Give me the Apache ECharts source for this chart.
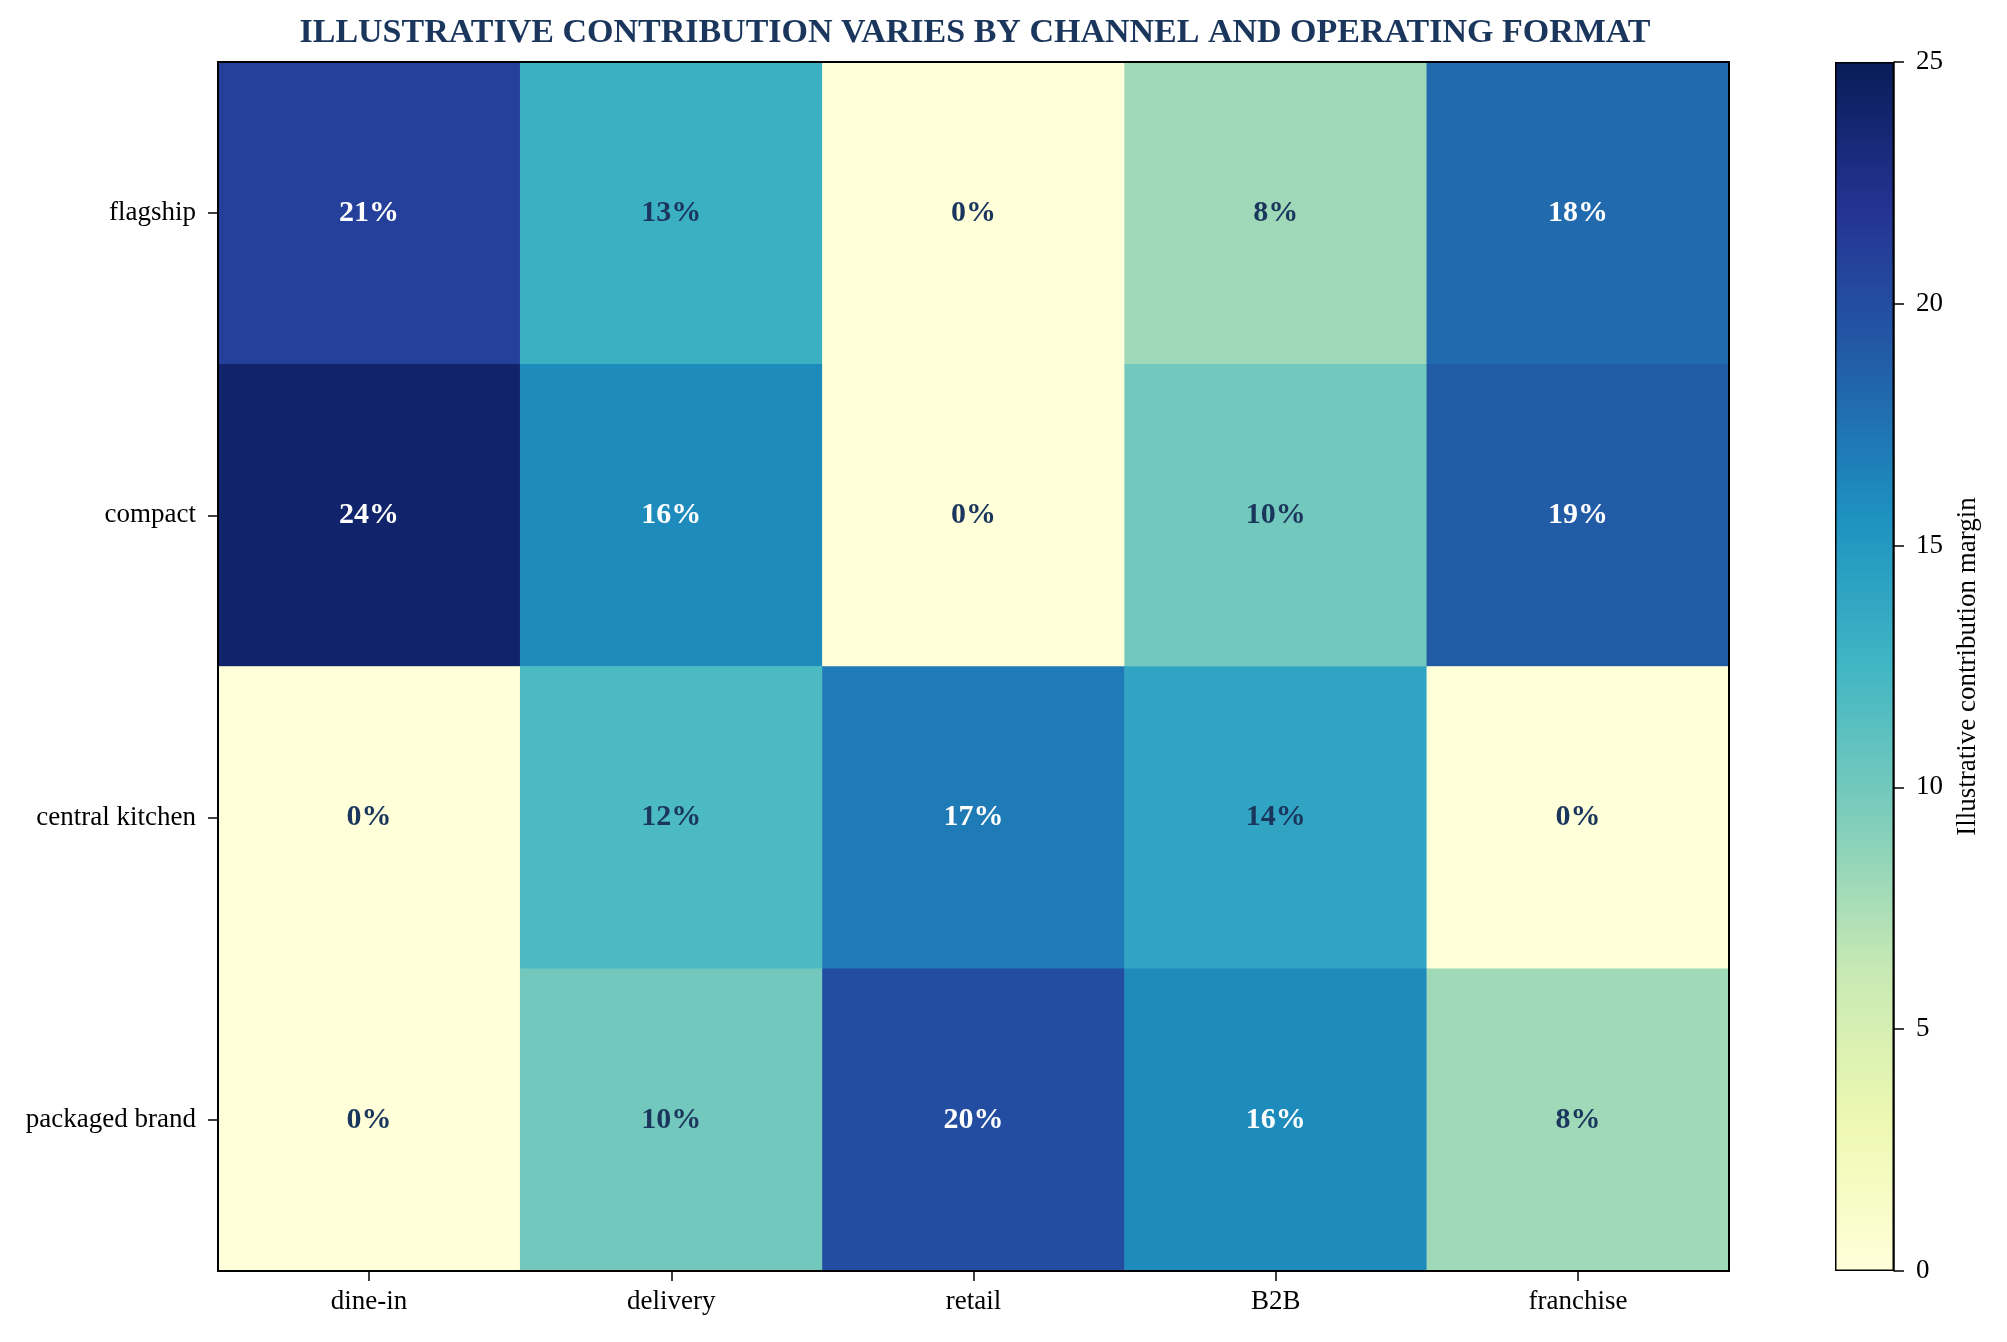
<!DOCTYPE html>
<html>
<head>
<meta charset="utf-8">
<script src="https://cdn.jsdelivr.net/npm/echarts@6/dist/echarts.min.js"></script>
<style>
html,body{margin:0;padding:0;background:#fff;}
#chart{width:2007px;height:1342px;}
</style>
</head>
<body>
<div id="chart"></div>
<script>
const channels = ['dine-in', 'delivery', 'retail', 'B2B', 'franchise'];
const formats = ['flagship', 'compact', 'central kitchen', 'packaged brand'];
const flagship = [21, 13, 0, 8, 18];
const compact = [24, 16, 0, 10, 19];
const centralKitchen = [0, 12, 17, 14, 0];
const packagedBrand = [0, 10, 20, 16, 8];
const colorbarTicks = [0, 5, 10, 15, 20, 25];
const ylgnbu = ['#ffffd9', '#edf8b1', '#c7e9b4', '#7fcdbb', '#41b6c4', '#1d91c0', '#225ea8', '#253494', '#081d58'];

const rows = [flagship, compact, centralKitchen, packagedBrand];
const FONT = 'Liberation Serif';
const NAVY = '#1b365d';

const heatData = [];
rows.forEach((vals, r) => {
  vals.forEach((v, c) => {
    heatData.push({
      value: [c, formats[r], v],
      label: { color: v >= 15 ? '#ffffff' : NAVY }
    });
  });
});

const chart = echarts.init(document.getElementById('chart'));
const lineStyle = { color: '#000', width: 2 };
chart.setOption({
  animation: false,
  backgroundColor: '#fff',
  title: {
    text: 'ILLUSTRATIVE CONTRIBUTION VARIES BY CHANNEL AND OPERATING FORMAT',
    left: 970, textAlign: 'center', top: 11,
    textStyle: { fontFamily: FONT, fontSize: 34, fontWeight: 'bold', color: NAVY }
  },
  grid: [
    { left: 218, right: 278, top: 62, bottom: 71 },
    { left: 1835, width: 59, top: 62, bottom: 71 }
  ],
  xAxis: [
    {
      type: 'category', gridIndex: 0, data: channels, position: 'bottom', z: 10,
      axisLine: { show: true, lineStyle },
      axisTick: { show: true, alignWithLabel: true, length: 10, lineStyle: { color: '#000', width: 1.5 } },
      axisLabel: { fontFamily: FONT, fontSize: 27, color: '#000', margin: 17 },
      splitArea: { show: false }
    },
    {
      type: 'category', gridIndex: 0, data: channels, position: 'top', z: 10,
      axisLine: { show: true, lineStyle }, axisTick: { show: false }, axisLabel: { show: false }
    },
    {
      type: 'category', gridIndex: 1, data: ['cb'], show: false
    }
  ],
  yAxis: [
    {
      type: 'category', gridIndex: 0, data: formats, inverse: true, position: 'left', z: 10,
      axisLine: { show: true, lineStyle },
      axisTick: { show: true, alignWithLabel: true, length: 10, lineStyle: { color: '#000', width: 1.5 } },
      axisLabel: { fontFamily: FONT, fontSize: 27, color: '#000', margin: 22 }
    },
    {
      type: 'category', gridIndex: 0, data: formats, inverse: true, position: 'right', z: 10,
      axisLine: { show: true, lineStyle }, axisTick: { show: false }, axisLabel: { show: false }
    },
    {
      type: 'value', gridIndex: 1, position: 'right', min: colorbarTicks[0], max: colorbarTicks[colorbarTicks.length - 1], interval: 5, z: 10,
      name: 'Illustrative contribution margin', nameLocation: 'middle', nameRotate: 90, nameGap: 60,
      nameTextStyle: { fontFamily: FONT, fontSize: 27, color: '#000' },
      axisLine: { show: true, lineStyle: { color: '#000', width: 1.5 } },
      axisTick: { show: true, length: 10, lineStyle: { color: '#000', width: 1.5 } },
      axisLabel: { fontFamily: FONT, fontSize: 27, color: '#000', margin: 22 },
      splitLine: { show: false }
    }
  ],
  visualMap: {
    show: false, type: 'continuous', min: 0, max: 25, seriesIndex: 0, dimension: 2,
    inRange: { color: ylgnbu }
  },
  series: [
    {
      type: 'heatmap', xAxisIndex: 0, yAxisIndex: 0, data: heatData,
      label: {
        show: true, fontFamily: FONT, fontSize: 30, fontWeight: 'bold',
        formatter: p => p.value[2] + '%'
      },
      itemStyle: { borderWidth: 0 },
      emphasis: { disabled: true }
    },
    {
      type: 'bar', xAxisIndex: 2, yAxisIndex: 2, data: [colorbarTicks[colorbarTicks.length - 1]], barWidth: '100%',
      itemStyle: {
        borderColor: '#000', borderWidth: 1.5,
        color: new echarts.graphic.LinearGradient(0, 1, 0, 0,
          ylgnbu.map((c, i) => ({ offset: i / (ylgnbu.length - 1), color: c })))
      },
      silent: true
    }
  ]
});
</script>
</body>
</html>
